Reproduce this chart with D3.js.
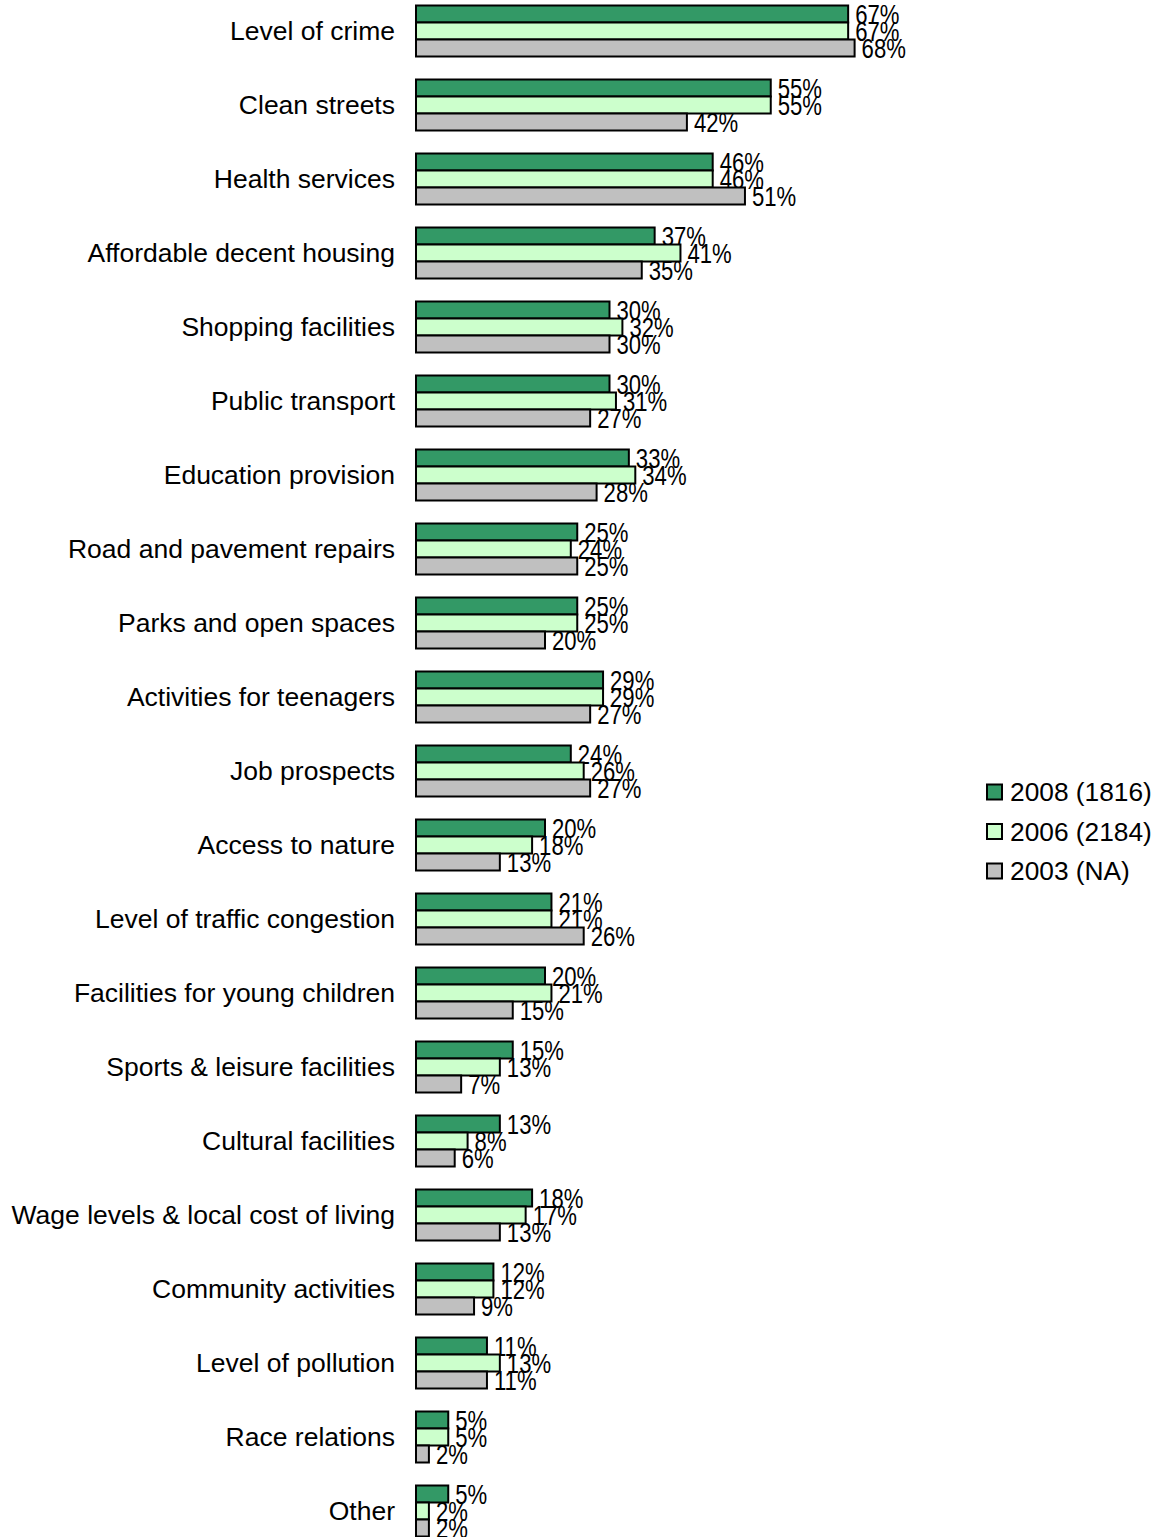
<!DOCTYPE html>
<html>
<head>
<meta charset="utf-8">
<script src="https://cdn.jsdelivr.net/npm/d3@7"></script>
<style>
  html, body { margin: 0; padding: 0; background: #ffffff; }
  svg { display: block; }
</style>
</head>
<body>
<svg id="chart" width="1161" height="1537"></svg>
<script>
// Issues residents say most need improving, by survey year
const categories = [
  "Level of crime", "Clean streets", "Health services", "Affordable decent housing",
  "Shopping facilities", "Public transport", "Education provision",
  "Road and pavement repairs", "Parks and open spaces", "Activities for teenagers",
  "Job prospects", "Access to nature", "Level of traffic congestion",
  "Facilities for young children", "Sports & leisure facilities", "Cultural facilities",
  "Wage levels & local cost of living", "Community activities", "Level of pollution",
  "Race relations", "Other"
];
const seriesNames = ["2008 (1816)", "2006 (2184)", "2003 (NA)"];
const values2008 = [67, 55, 46, 37, 30, 30, 33, 25, 25, 29, 24, 20, 21, 20, 15, 13, 18, 12, 11, 5, 5];
const values2006 = [67, 55, 46, 41, 32, 31, 34, 24, 25, 29, 26, 18, 21, 21, 13, 8, 17, 12, 13, 5, 2];
const values2003 = [68, 42, 51, 35, 30, 27, 28, 25, 20, 27, 27, 13, 26, 15, 7, 6, 13, 9, 11, 2, 2];
const seriesColors = ["#339966", "#ccffcc", "#c0c0c0"];

const allSeries = [values2008, values2006, values2003];

const svg = d3.select("#chart");

const x = d3.scaleLinear().domain([0, 100]).range([416, 416 + 645]);

const pIn = 23 / 74;
const y = d3.scaleBand()
  .domain(categories)
  .range([-6, -6 + 74 * categories.length])
  .paddingInner(pIn)
  .paddingOuter(pIn / 2);

const ySub = d3.scaleBand()
  .domain(d3.range(seriesNames.length))
  .range([0, y.bandwidth()]);

const catFont = "Arial, 'Liberation Sans', sans-serif";
const valFont = "'Liberation Sans Narrow', 'Arial Narrow', 'Liberation Sans', sans-serif";

// category labels
svg.append("g")
  .selectAll("text")
  .data(categories)
  .join("text")
  .attr("x", 395)
  .attr("y", d => y(d) + y.bandwidth() / 2 + 9)
  .attr("text-anchor", "end")
  .attr("font-family", catFont)
  .attr("font-size", 26.5)
  .attr("fill", "#000")
  .text(d => d);

// bars and value labels
const groups = svg.append("g")
  .selectAll("g")
  .data(categories)
  .join("g")
  .attr("transform", d => `translate(0,${y(d)})`);

const cells = groups.selectAll("g.cell")
  .data((d, i) => allSeries.map((vals, s) => ({ s, v: vals[i] })))
  .join("g")
  .attr("class", "cell");

cells.append("rect")
  .attr("x", x(0))
  .attr("y", d => ySub(d.s))
  .attr("width", d => x(d.v) - x(0))
  .attr("height", ySub.bandwidth())
  .attr("fill", d => seriesColors[d.s])
  .attr("stroke", "#000")
  .attr("stroke-width", 2);

// value labels in a condensed face
cells.append("text")
  .attr("transform", d => `translate(${x(d.v) + 7},${ySub(d.s) + ySub.bandwidth() / 2 + 9.5}) scale(0.82,1)`)
  .attr("font-family", valFont)
  .attr("font-size", 27)
  .attr("fill", "#000")
  .text(d => d.v + "%");

// legend
const legend = svg.append("g")
  .selectAll("g")
  .data(seriesNames)
  .join("g")
  .attr("transform", (d, i) => `translate(987,${792 + i * 39.5})`);

legend.append("rect")
  .attr("x", 0)
  .attr("y", -7.5)
  .attr("width", 15)
  .attr("height", 15)
  .attr("fill", (d, i) => seriesColors[i])
  .attr("stroke", "#000")
  .attr("stroke-width", 2);

legend.append("text")
  .attr("x", 23)
  .attr("y", 9)
  .attr("font-family", catFont)
  .attr("font-size", 26.3)
  .attr("fill", "#000")
  .text(d => d);
</script>
</body>
</html>
